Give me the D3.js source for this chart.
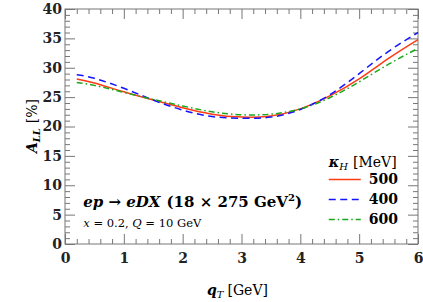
<!DOCTYPE html>
<html>
<head>
<meta charset="utf-8">
<script src="https://cdn.jsdelivr.net/npm/d3@7"></script>
<style>
  body { margin: 0; background: #fff; }
  svg text { font-family: "DejaVu Serif", serif; }
</style>
</head>
<body>
<div id="chart"></div>
<script>
// q_T values [GeV] where curves are sampled
const qT = [0.2, 0.5, 1.0, 1.5, 2.0, 2.5, 3.0, 3.5, 4.0, 4.5, 5.0, 5.5, 6.0];
// A_LL [%] for each kappa_H
const all500 = [28.1, 27.4, 25.9, 24.5, 23.2, 22.1, 21.6, 21.8, 23.0, 25.2, 28.1, 31.6, 34.8];
const all400 = [28.8, 28.2, 26.5, 24.5, 22.8, 21.7, 21.4, 21.6, 22.9, 25.4, 29.0, 32.8, 36.0];
const all600 = [27.5, 27.0, 25.8, 24.6, 23.5, 22.5, 22.0, 22.1, 23.0, 24.9, 27.6, 30.6, 33.3];
const xTicks = [0, 1, 2, 3, 4, 5, 6];
const yTicks = [0, 5, 10, 15, 20, 25, 30, 35, 40];
const legendLabels = ["500", "400", "600"];

const series = [
  { name: legendLabels[0], values: all500, color: "#ff3b14", dash: null },
  { name: legendLabels[1], values: all400, color: "#1414ff", dash: "7,4.5" },
  { name: legendLabels[2], values: all600, color: "#1aa81a", dash: "6,3,1.5,3" }
];

const serif = "DejaVu Serif, serif";
const width = 423, height = 302;
const margin = { top: 9, left: 65, bottom: 58, right: 5 };
const iwidth = width - margin.left - margin.right;
const iheight = height - margin.top - margin.bottom;

const svg = d3.select("#chart").append("svg")
  .attr("width", width)
  .attr("height", height)
  .attr("font-family", serif);

const g = svg.append("g").attr("transform", `translate(${margin.left},${margin.top})`);

const x = d3.scaleLinear().domain([0, 6]).range([0, iwidth]);
const y = d3.scaleLinear().domain([0, 40]).range([iheight, 0]);

const axisColor = "#777";

// inward ticks on all four sides
function styleAxis(sel) {
  sel.attr("font-family", serif);
  sel.select(".domain").remove();
  sel.selectAll(".tick line").attr("stroke", axisColor);
}
function styleLabels(s) {
  s.selectAll("text")
    .attr("font-size", 14).attr("font-weight", "bold")
    .attr("font-family", serif).attr("fill", "#222");
}
const xMinor = d3.range(0, 6.001, 0.2).filter(v => Math.abs(v - Math.round(v)) > 1e-6);
const yMinor = d3.range(0, 40.001, 1).filter(v => v % 5 !== 0);

g.append("g").attr("transform", `translate(0,${iheight})`)
  .call(d3.axisBottom(x).tickValues(xMinor).tickSize(-5).tickFormat(""))
  .call(styleAxis);
g.append("g").attr("transform", `translate(0,${iheight})`)
  .call(d3.axisBottom(x).tickValues(xTicks).tickSize(-10).tickPadding(9).tickFormat(d3.format("d")))
  .call(styleAxis)
  .call(styleLabels);
g.append("g")
  .call(d3.axisTop(x).tickValues(xMinor).tickSize(-5).tickFormat(""))
  .call(styleAxis);
g.append("g")
  .call(d3.axisTop(x).tickValues(xTicks).tickSize(-10).tickFormat(""))
  .call(styleAxis);

g.append("g")
  .call(d3.axisLeft(y).tickValues(yMinor).tickSize(-5).tickFormat(""))
  .call(styleAxis);
g.append("g")
  .call(d3.axisLeft(y).tickValues(yTicks).tickSize(-10).tickPadding(3).tickFormat(d3.format("d")))
  .call(styleAxis)
  .call(styleLabels);
g.append("g").attr("transform", `translate(${iwidth},0)`)
  .call(d3.axisRight(y).tickValues(yMinor).tickSize(-5).tickFormat(""))
  .call(styleAxis);
g.append("g").attr("transform", `translate(${iwidth},0)`)
  .call(d3.axisRight(y).tickValues(yTicks).tickSize(-10).tickFormat(""))
  .call(styleAxis);

g.append("rect")
  .attr("width", iwidth).attr("height", iheight)
  .attr("fill", "none").attr("stroke", axisColor).attr("stroke-width", 1);

// curves
const line = d3.line()
  .x((d, i) => x(qT[i]))
  .y(d => y(d))
  .curve(d3.curveNatural);

g.selectAll(".curve").data(series).enter().append("path")
  .attr("class", "curve")
  .attr("d", d => line(d.values))
  .attr("fill", "none")
  .attr("stroke", d => d.color)
  .attr("stroke-width", 1.5)
  .attr("stroke-dasharray", d => d.dash);

// legend
const lg = g.append("g").attr("transform", `translate(${x(4.5) - 1},0)`);
const title = lg.append("text").attr("x", 0).attr("y", y(13.1)).attr("font-size", 14);
title.append("tspan").attr("font-style", "italic").attr("font-weight", "bold").text("κ");
title.append("tspan").attr("font-style", "italic").attr("font-size", 10).attr("dy", 3).text("H");
title.append("tspan").attr("dy", -3).attr("dx", 5).text("[MeV]");

const ent = lg.selectAll(".entry").data(series).enter().append("g")
  .attr("transform", (d, i) => `translate(0,${y(11) + i * 20})`);
ent.append("line")
  .attr("x1", 0).attr("x2", 32)
  .attr("stroke", d => d.color).attr("stroke-width", 1.5)
  .attr("stroke-dasharray", d => d.dash);
ent.append("text")
  .attr("x", 40).attr("y", 5)
  .attr("font-size", 14).attr("font-weight", "bold")
  .text(d => d.name);

// annotations
const ann = g.append("text").attr("x", x(0.31)).attr("y", y(6.3))
  .attr("font-size", 15).attr("font-weight", "bold");
ann.append("tspan").attr("font-style", "italic").text("ep");
ann.append("tspan").text(" → ");
ann.append("tspan").attr("font-style", "italic").text("eDX");
ann.append("tspan").attr("dx", 6).text("(18 × 275 GeV");
ann.append("tspan").attr("font-size", 10).attr("dy", -6).text("2");
ann.append("tspan").attr("dy", 6).text(")");

const ann2 = g.append("text").attr("x", x(0.31)).attr("y", y(2.9)).attr("font-size", 11.5);
ann2.append("tspan").attr("font-style", "italic").text("x");
ann2.append("tspan").text(" = 0.2, ");
ann2.append("tspan").attr("font-style", "italic").text("Q");
ann2.append("tspan").text(" = 10 GeV");

// axis titles
const xt = svg.append("text")
  .attr("x", margin.left + iwidth / 2 - 4).attr("y", 295)
  .attr("text-anchor", "middle").attr("font-size", 14);
xt.append("tspan").attr("font-style", "italic").attr("font-weight", "bold").text("q");
xt.append("tspan").attr("font-style", "italic").attr("font-size", 10).attr("dy", 3).text("T");
xt.append("tspan").attr("dy", -3).attr("dx", 4).text("[GeV]");

const yt = svg.append("text")
  .attr("transform", "translate(37,126) rotate(-90)")
  .attr("text-anchor", "middle").attr("font-size", 14);
yt.append("tspan").attr("font-style", "italic").attr("font-weight", "bold").text("A");
yt.append("tspan").attr("font-style", "italic").attr("font-weight", "bold").attr("font-size", 10).attr("dy", 3).text("LL");
yt.append("tspan").attr("dy", -3).attr("dx", 5).text("[%]");
</script>
</body>
</html>
